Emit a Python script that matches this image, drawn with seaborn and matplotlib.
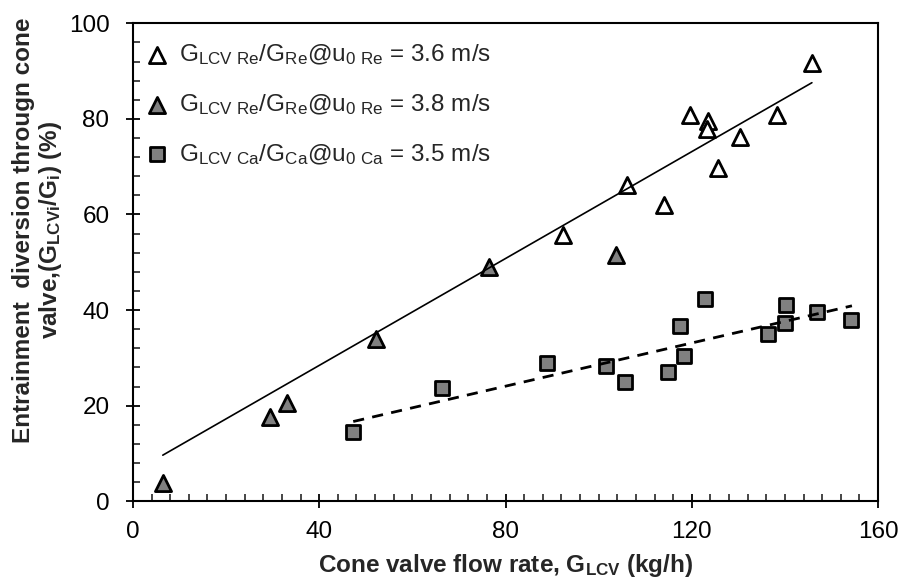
import numpy as np
import pandas as pd
import matplotlib
matplotlib.use("Agg")
import matplotlib.pyplot as plt
from matplotlib.ticker import MultipleLocator
import seaborn as sns

# Riser entrainment diverted through the cone valve, u0 = 3.6 m/s
re36_x = [145.8, 119.6, 123.4, 123.2, 138.2, 130.4, 125.7, 106.0, 114.0, 92.4]
re36_y = [91.6, 80.8, 79.6, 77.8, 80.8, 76.3, 69.7, 66.2, 62.0, 55.7]

# Riser entrainment diverted through the cone valve, u0 = 3.8 m/s
re38_x = [103.8, 76.5, 52.2, 33.0, 29.4, 6.4]
re38_y = [51.5, 49.1, 34.0, 20.6, 17.7, 3.9]

# Carryover diverted through the cone valve, u0 = 3.5 m/s
ca35_x = [47.3, 66.4, 88.9, 101.5, 105.6, 114.8, 118.4, 117.4, 122.8,
          136.3, 140.0, 140.3, 146.8, 154.1]
ca35_y = [14.6, 23.6, 29.0, 28.2, 25.0, 27.0, 30.4, 36.7, 42.3,
          35.1, 37.2, 41.1, 39.5, 37.9]

# Linear trend lines (slope, intercept)
trend_re = (0.559, 6.07)
trend_ca = (0.226, 6.0)

labels = [
    r"G$_{\mathregular{LCV\ Re}}$/G$_{\mathregular{Re}}$@u$_{\mathregular{0\ Re}}$ = 3.6 m/s",
    r"G$_{\mathregular{LCV\ Re}}$/G$_{\mathregular{Re}}$@u$_{\mathregular{0\ Re}}$ = 3.8 m/s",
    r"G$_{\mathregular{LCV\ Ca}}$/G$_{\mathregular{Ca}}$@u$_{\mathregular{0\ Ca}}$ = 3.5 m/s",
]

sns.set_theme(style="ticks")
plt.rcParams["font.family"] = ["Liberation Sans", "DejaVu Sans"]
plt.rcParams["mathtext.default"] = "regular"

fig = plt.figure(figsize=(9.01, 5.81), dpi=100)
ax = fig.add_axes([0.1476, 0.1372, 0.9745 - 0.1476, 0.9599 - 0.1372])

gray = "#808080"
mk = dict(edgecolor="black", linewidth=2.0, ax=ax, zorder=3)
sns.scatterplot(x=re36_x, y=re36_y, marker="^", s=135, color="white",
                label=labels[0], **mk)
sns.scatterplot(x=re38_x, y=re38_y, marker="^", s=135, color=gray,
                label=labels[1], **mk)
sns.scatterplot(x=ca35_x, y=ca35_y, marker="s", s=110, color=gray,
                label=labels[2], **mk)

# Trend lines spanning each data range
tri_x = np.array(re36_x + re38_x)
xr = np.array([tri_x.min(), tri_x.max()])
sns.lineplot(x=xr, y=trend_re[0] * xr + trend_re[1], color="black",
             linewidth=1.2, ax=ax, zorder=4, legend=False)
xc = np.array([min(ca35_x), max(ca35_x) + 0.3])
sns.lineplot(x=xc, y=trend_ca[0] * xc + trend_ca[1], color="black",
             linewidth=2.0, linestyle=(0, (4, 3)), ax=ax, zorder=4,
             legend=False)

ax.set_xlim(0, 160)
ax.set_ylim(0, 100)
ax.xaxis.set_major_locator(MultipleLocator(40))
ax.xaxis.set_minor_locator(MultipleLocator(4))
ax.yaxis.set_major_locator(MultipleLocator(20))
ax.yaxis.set_minor_locator(MultipleLocator(4))
ax.tick_params(which="major", direction="inout", length=10, width=1.3,
               labelsize=17.5, colors="black")
ax.tick_params(axis="y", which="major", pad=12)
ax.tick_params(axis="x", which="major", pad=9)
ax.tick_params(which="minor", direction="in", length=5, width=1.2)
for sp in ax.spines.values():
    sp.set_linewidth(1.5)
    sp.set_color("black")

ax.set_xlabel(r"Cone valve flow rate, G$_{\mathregular{LCV}}$ (kg/h)",
              fontsize=17.5, fontweight="bold", labelpad=7)
ax.set_ylabel("Entrainment  diversion througn cone\n"
              r"valve,(G$_{\mathregular{LCVi}}$/G$_{\mathregular{i}}$) (%)",
              fontsize=17.5, fontweight="bold", linespacing=1.1)
ax.yaxis.set_label_coords((38 - 133) / 745, (501.3 - 230) / 478)
ax.yaxis.label.set_verticalalignment("center")

leg = ax.legend(loc="upper left", frameon=False, fontsize=17.5,
                handletextpad=0.2, labelspacing=1.02,
                bbox_to_anchor=(0.0, 0.975), borderaxespad=0.0,
                handlelength=1.4, borderpad=0.3)

fig.savefig("out.png", dpi=100)
